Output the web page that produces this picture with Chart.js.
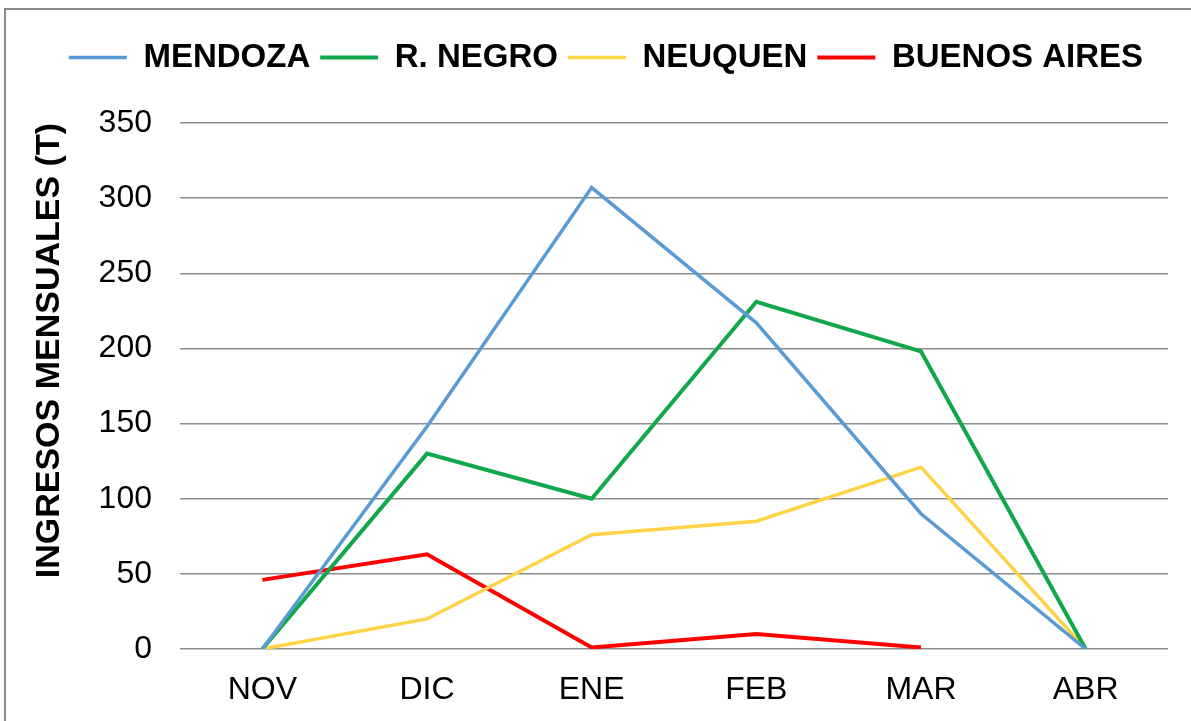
<!DOCTYPE html>
<html>
<head>
<meta charset="utf-8">
<script src="https://cdn.jsdelivr.net/npm/chart.js@4"></script>
<style>
  html, body { margin: 0; padding: 0; background: #fff; }
  #wrap { position: relative; width: 1191px; height: 721px; overflow: hidden; }
  #frame { position: absolute; left: 4px; top: 8px; width: 1200px; height: 800px;
           border-left: 2px solid #8c8c8c; border-top: 2px solid #8c8c8c; box-sizing: border-box; }
  canvas { position: absolute; left: 0; top: 0; }
</style>
</head>
<body>
<div id="wrap">
  <div id="frame"></div>
  <canvas id="chart" width="1191" height="721"></canvas>
</div>
<script>
// months and monthly income per province (T)
var months = ['NOV', 'DIC', 'ENE', 'FEB', 'MAR', 'ABR'];
var mendoza = [0, 148, 307, 217, 90, 0];
var rioNegro = [0, 130, 100, 231, 198, 0];
var neuquen = [0, 20, 76, 85, 121, 0];
var buenosAires = [46, 63, 1, 10, 1, null];
var yTicks = [0, 50, 100, 150, 200, 250, 300, 350];

var FONT = '"Liberation Sans", Arial, sans-serif';

function series(label, data, color, width) {
  return {
    label: label,
    data: data,
    borderColor: color,
    backgroundColor: color,
    borderWidth: width,
    pointRadius: 0,
    tension: 0,
    fill: false,
    spanGaps: false
  };
}

// legend box: taller (pushes the plot down) and nudged right
var legendTweak = {
  id: 'legendTweak',
  beforeInit: function (chart) {
    var lg = chart.legend;
    var fit = lg.fit;
    lg.fit = function () {
      fit.call(this);
      this.height = 92;
    };
  },
  afterLayout: function (chart) {
    chart.legend.left += 18;
    chart.legend.right += 18;
  }
};

var ctx = document.getElementById('chart');
var chart = new Chart(ctx, {
  type: 'line',
  data: {
    labels: months,
    datasets: [
      series('MENDOZA', mendoza, '#5b9bd5', 3.5),
      series('R. NEGRO', rioNegro, '#10a84a', 4),
      series('NEUQUEN', neuquen, '#ffd346', 3.5),
      series('BUENOS AIRES', buenosAires, '#ff0000', 4)
    ]
  },
  plugins: [legendTweak],
  options: {
    responsive: false,
    animation: false,
    layout: {
      padding: { left: 8, right: 23, top: 31, bottom: 10 }
    },
    plugins: {
      tooltip: { enabled: false },
      legend: {
        display: true,
        position: 'top',
        labels: {
          usePointStyle: true,
          pointStyle: 'line',
          pointStyleWidth: 58,
          boxHeight: 33,
          padding: 10,
          color: '#000',
          font: { family: FONT, size: 33, weight: 'bold' }
        }
      }
    },
    scales: {
      x: {
        offset: true,
        grid: { display: false, drawTicks: false },
        border: { display: false },
        ticks: {
          color: '#000',
          padding: 22,
          font: { family: FONT, size: 32 }
        },
        afterFit: function (s) { s.height = 62; }
      },
      y: {
        min: 0,
        max: 350,
        afterBuildTicks: function (s) {
          s.ticks = yTicks.map(function (v) { return { value: v }; });
        },
        grid: { color: '#8c8c8c', lineWidth: 1.5, drawTicks: false },
        border: { display: false },
        ticks: {
          color: '#000',
          padding: 28,
          font: { family: FONT, size: 32 }
        },
        title: {
          display: true,
          align: 'end',
          text: 'INGRESOS MENSUALES (T)',
          color: '#000',
          padding: { top: 21, bottom: 0 },
          font: { family: FONT, size: 34, weight: 'bold' }
        },
        afterFit: function (s) { s.width = 172; }
      }
    }
  }
});
</script>
</body>
</html>
